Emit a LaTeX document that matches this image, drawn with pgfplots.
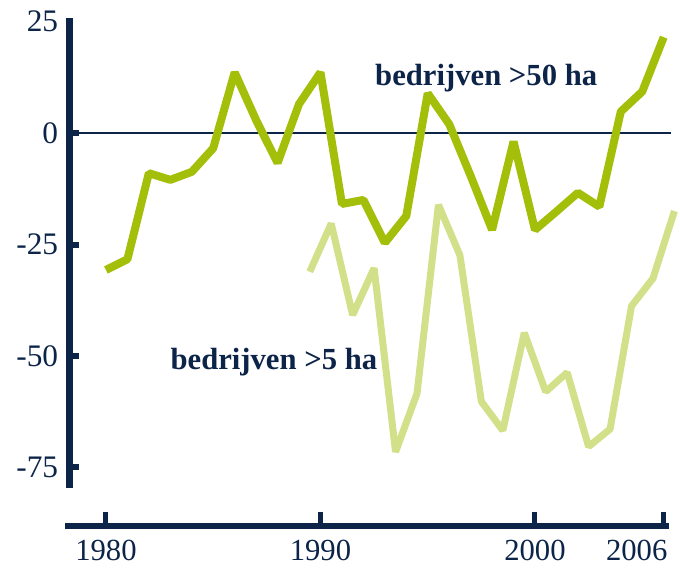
\documentclass[border=0pt]{standalone}
\usepackage{fontspec}
\setmainfont{Liberation Serif}
\usepackage{pgfplots}
\pgfplotsset{compat=1.18}
\definecolor{navy}{RGB}{12,36,72}
\definecolor{darkg}{RGB}{163,191,10}
\definecolor{lightg}{RGB}{211,224,138}
\begin{document}
\begin{tikzpicture}
\useasboundingbox (0pt,0pt) rectangle (510pt,426pt);
\begin{axis}[
  at={(52.125pt,60pt)}, anchor=south west,
  scale only axis, width=456.9pt, height=352.5pt,
  xmin=1978.3, xmax=2006.7, ymin=-79.6, ymax=25.8,
  axis x line=none, axis y line=left,
  y axis line style={line width=5.5pt, draw=navy, -},
  ytick={-75,-50,-25,0}, yticklabels={-75,-50,-25,0},
  extra y ticks={25}, extra y tick labels={25},
  extra y tick style={major tick length=0pt},
  tick align=inside, major tick length=7.5pt,
  ytick style={line width=4.5pt, draw=navy},
  yticklabel style={font=\fontsize{23.5}{26}\selectfont, text=navy, anchor=east, xshift=-5pt},
  clip=false,
]
\addplot[navy, line width=1.2pt, mark=none] coordinates {(1978.7,0) (2006.35,0)};
\addplot[darkg, line width=6pt, line join=bevel, mark=none] coordinates {
(1980,-30.7) (1981,-28.3) (1982,-9.0) (1983,-10.5) (1984,-8.7) (1985,-3.4)
(1986,13.6) (1987,2.9) (1988,-6.7) (1989,6.5) (1990,13.6) (1991,-15.9)
(1992,-15.0) (1993,-24.6) (1994,-18.6) (1995,8.9) (1996,2.0) (1997,-9.6)
(1998,-21.7) (1999,-1.9) (2000,-21.7) (2001,-17.6) (2002,-13.4) (2003,-16.5)
(2004,4.8) (2005,9.3) (2006,21.5)};
\addplot[lightg, line width=5.25pt, line join=bevel, mark=none] coordinates {
(1989.5,-31.1) (1990.5,-20.3) (1991.5,-40.8) (1992.5,-30.3) (1993.5,-71.5)
(1994.5,-58.4) (1995.5,-16.1) (1996.5,-27.4) (1997.5,-60.2) (1998.5,-66.7)
(1999.5,-44.8) (2000.5,-58.0) (2001.5,-53.7) (2002.5,-70.3) (2003.5,-66.4)
(2004.5,-38.8) (2005.5,-32.6) (2006.5,-17.5)};
\node[anchor=base west, font=\bfseries\fontsize{23}{26}\selectfont, text=navy, inner sep=0pt] at (axis cs:1992.54,10.76) {bedrijven >50 ha};
\node[anchor=base west, font=\bfseries\fontsize{23}{26}\selectfont, text=navy, inner sep=0pt] at (axis cs:1983.0,-53.1) {bedrijven >5 ha};
\end{axis}
\begin{axis}[
  at={(48.75pt,31.5pt)}, anchor=south west,
  scale only axis, width=453pt, height=20pt,
  xmin=1978.09, xmax=2006.25, ymin=0, ymax=1,
  axis y line=none, axis x line=bottom,
  x axis line style={line width=5pt, draw=navy, -},
  xtick={1980,1990,2000}, xticklabels={1980,1990,2000},
  extra x ticks={2006}, extra x tick labels={2006},
  extra x tick style={xticklabel style={anchor=north east, xshift=3pt}},
  tick align=inside, major tick length=10.5pt,
  xtick style={line width=3.75pt, draw=navy},
  xticklabel style={font=\fontsize{23}{26}\selectfont, text=navy, inner sep=0pt, yshift=-10.5pt},
]
\addplot[draw=none, mark=none] coordinates {(1980,0.5)};
\end{axis}
\end{tikzpicture}
\end{document}
